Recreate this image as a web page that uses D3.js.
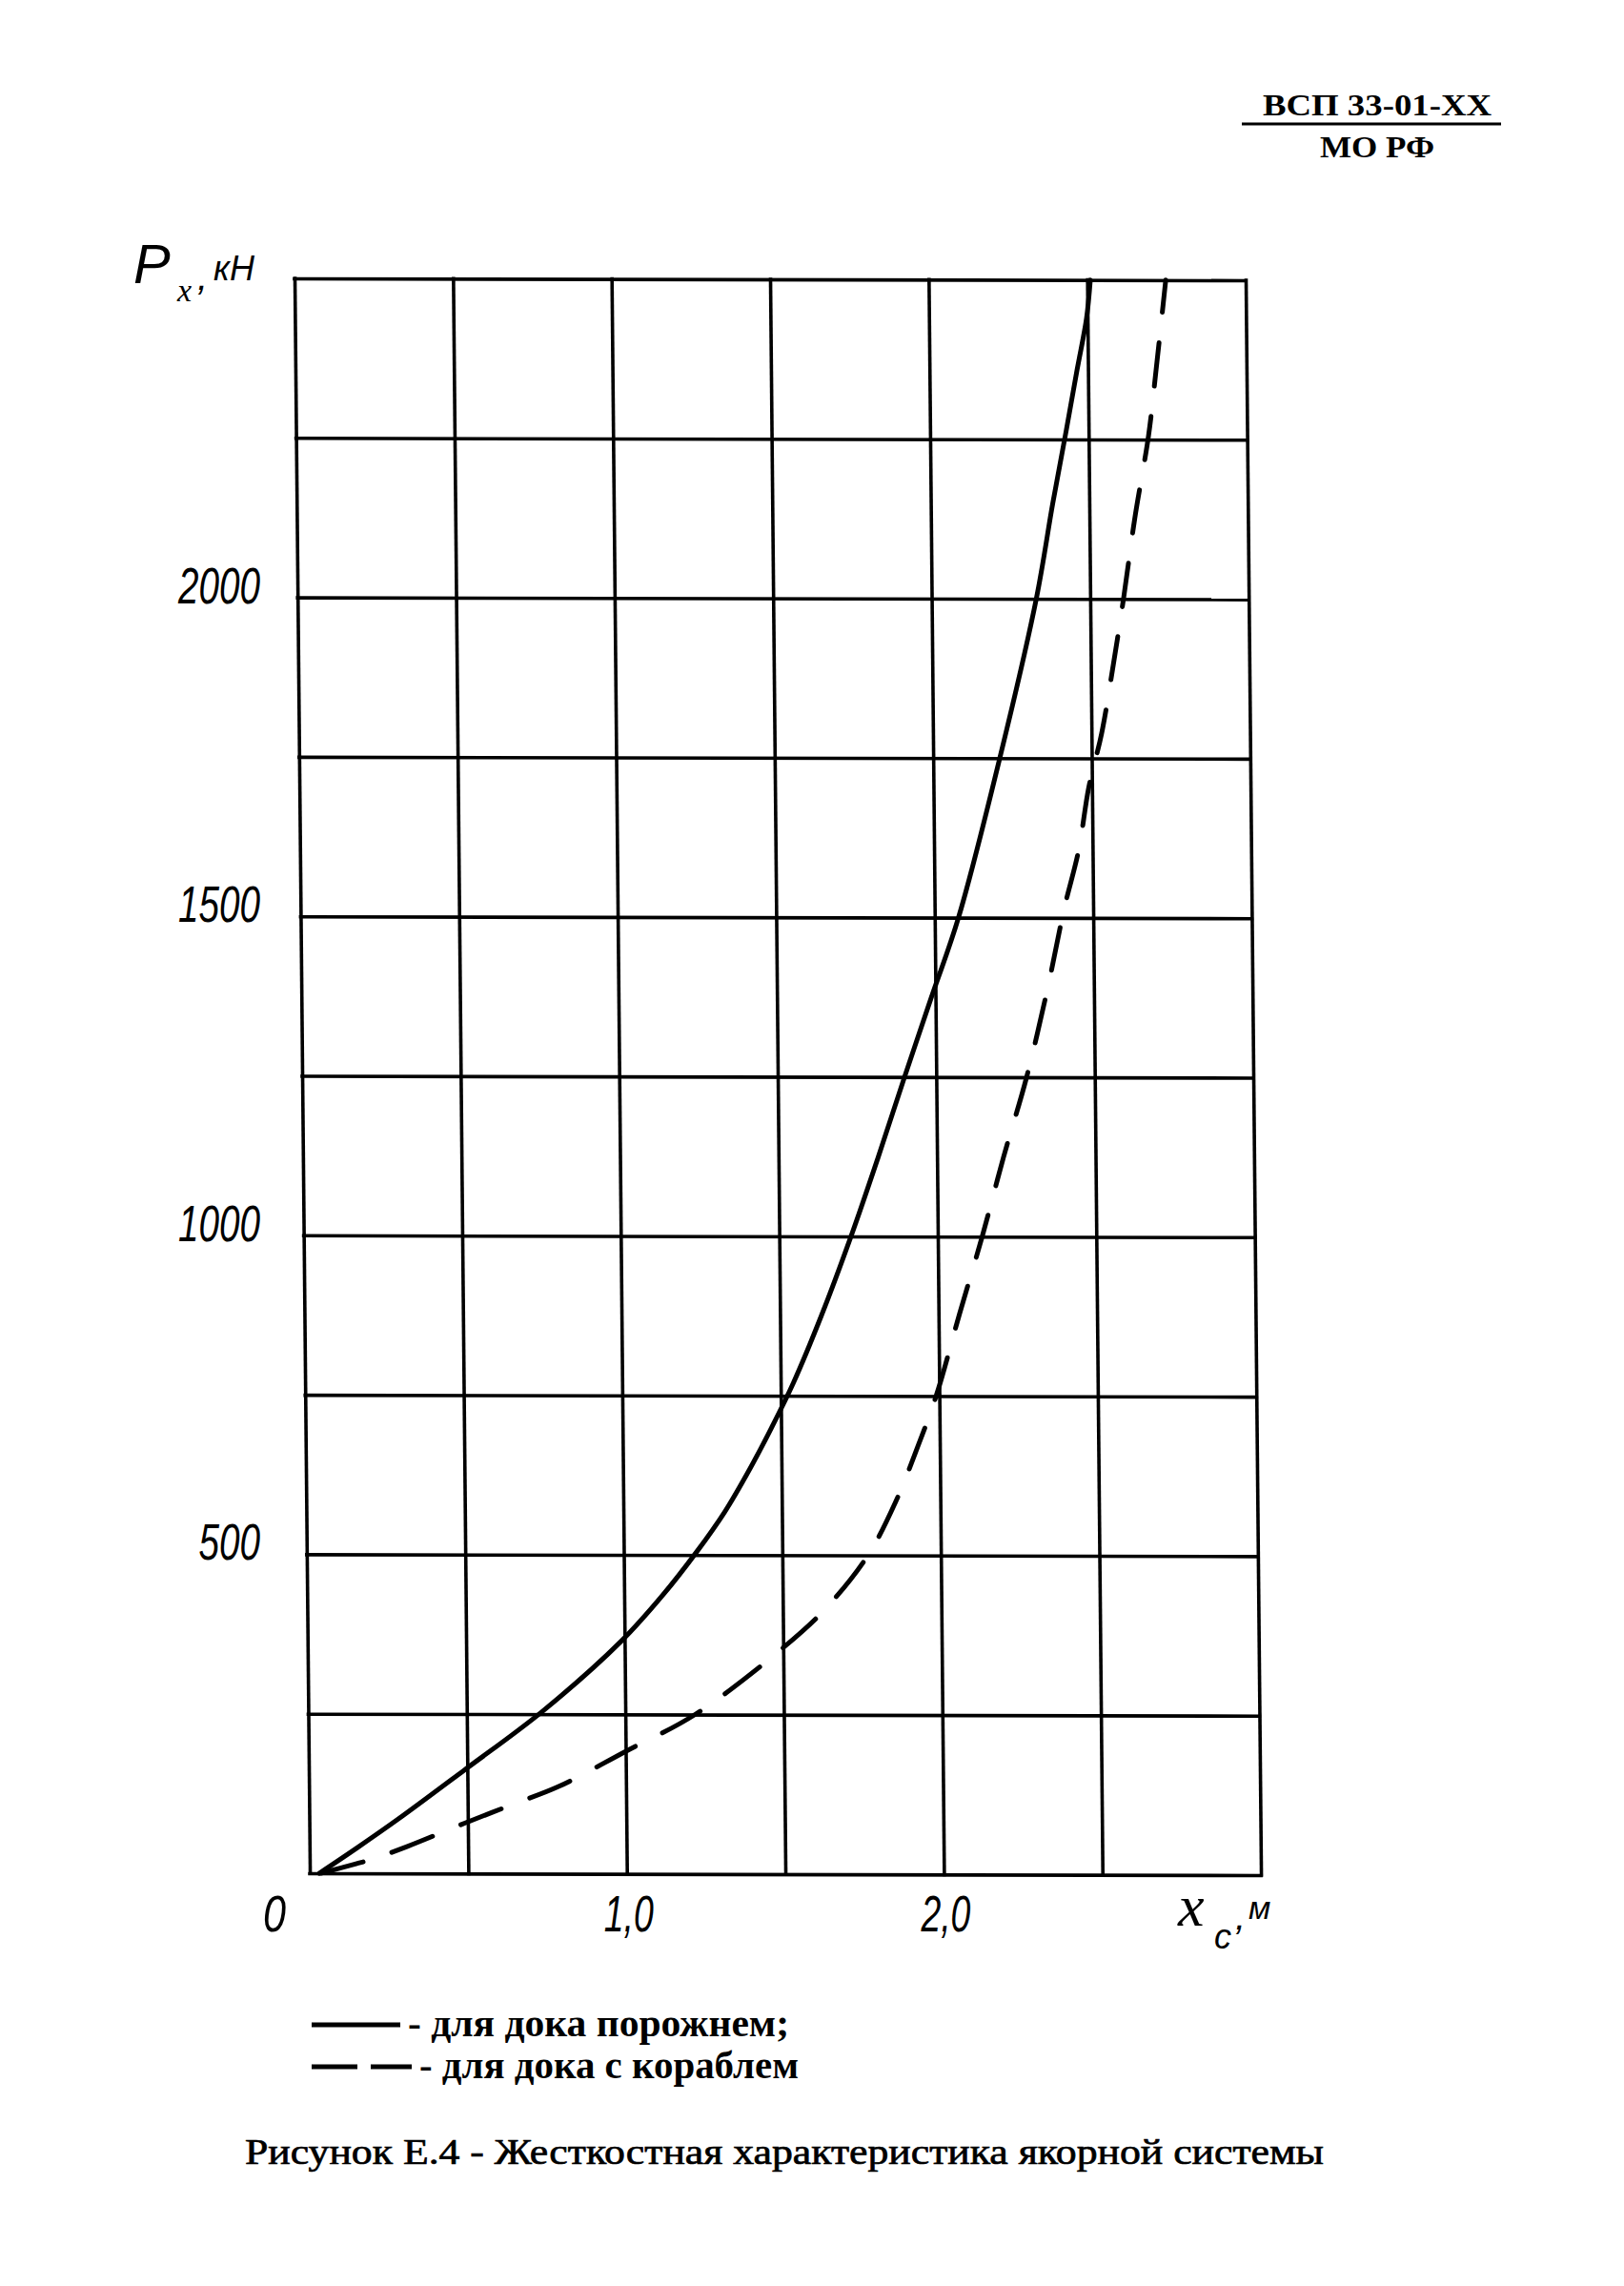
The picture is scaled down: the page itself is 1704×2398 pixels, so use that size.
<!DOCTYPE html>
<html><head><meta charset="utf-8">
<script src="https://cdn.jsdelivr.net/npm/d3@7"></script>
<style>body{margin:0;background:#fff}</style>
</head><body><svg id="c" width="1704" height="2398"></svg>
<script>
// ---- data ----
const xGridValues = [0, 0.5, 1, 1.5, 2, 2.5, 3];
const yGridValues = [0, 250, 500, 750, 1000, 1250, 1500, 1750, 2000, 2250, 2500];
const xTickValues = [0, 1, 2];
const xTickLabels = ["0", "1,0", "2,0"];
const yTickValues = [500, 1000, 1500, 2000];
const yTickLabels = ["500", "1000", "1500", "2000"];
// solid: для дока порожнем  (x, м ; P, кН)
const emptyDockX = [0.03, 0.15, 0.28, 0.49, 0.74, 0.99, 1.12, 1.23, 1.32, 1.40, 1.47, 1.54, 1.63, 1.73, 1.815, 1.90, 1.985, 2.075, 2.21, 2.33, 2.385, 2.43, 2.466, 2.497, 2.51];
const emptyDockP = [0, 40, 85, 162, 255, 365, 436, 505, 568, 635, 700, 770, 875, 1005, 1125, 1250, 1372, 1500, 1750, 2000, 2150, 2265, 2360, 2440, 2500];
// dashed: для дока с кораблем
const shipDockX = [0.035, 0.146, 0.196, 0.307, 0.49, 0.634, 0.789, 1.0, 1.22, 1.5, 1.636, 1.77, 1.86, 1.93, 1.99, 2.067, 2.14, 2.21, 2.285, 2.356, 2.409, 2.456, 2.49, 2.532, 2.571, 2.606, 2.643, 2.689, 2.715, 2.748];
const shipDockP = [0, 15, 22, 42, 79, 107, 137, 192, 250, 355, 417, 500, 585, 670, 750, 880, 1000, 1125, 1250, 1394, 1515, 1606, 1705, 1789, 1897, 2003, 2126, 2256, 2360, 2500];
const legendLabels = ["- для дока порожнем;", "- для дока с кораблем"];
const captionText = "Рисунок Е.4 - Жесткостная характеристика якорной системы";
const headerTop = "ВСП 33-01-XX";
const headerBottom = "МО РФ";

// ---- layout ----
const svg = d3.select("#c");
svg.append("rect").attr("width", 1704).attr("height", 2398).attr("fill", "#fff");
const X0 = 309, Y0 = 292, W = 998, H = 1673;
const skewX = 0.0096, skewY = 0.002;
const x = d3.scaleLinear().domain([0, 3]).range([0, W]);
const y = d3.scaleLinear().domain([0, 2500]).range([H, 0]);

const g = svg.append("g")
  .attr("transform", `translate(${X0},${Y0}) matrix(1,${skewY},${skewX},1,0,0)`);

// grid (vertical)
const gx = g.append("g").attr("transform", `translate(0,${H})`)
  .call(d3.axisBottom(x).tickValues(xGridValues).tickSize(-H).tickFormat(""));
// grid (horizontal)
const gy = g.append("g")
  .call(d3.axisLeft(y).tickValues(yGridValues).tickSize(-W).tickFormat(""));
[gx, gy].forEach(a => {
  a.select(".domain").remove();
  a.selectAll(".tick line").attr("stroke", "#000").attr("stroke-width", 3.6).attr("stroke-linecap", "square");
});

const line = d3.line().x(d => x(d[0])).y(d => y(d[1])).curve(d3.curveCatmullRom.alpha(0.5));
const solidPts = emptyDockX.map((v, i) => [v, emptyDockP[i]]);
const dashPts = shipDockX.map((v, i) => [v, shipDockP[i]]);
g.append("path").attr("d", line(solidPts)).attr("fill", "none")
  .attr("stroke", "#000").attr("stroke-width", 5).attr("stroke-linecap", "round");
g.append("path").attr("d", line(dashPts)).attr("fill", "none")
  .attr("stroke", "#000").attr("stroke-width", 5).attr("stroke-linecap", "round")
  .attr("stroke-dasharray", "46,32");

// tick labels
const tickFont = "'Liberation Sans', Arial, sans-serif";
yTickValues.forEach((v, i) => {
  const lab = yTickLabels[i];
  svg.append("text").attr("x", 273).attr("y", Y0 + y(v) + 6)
    .attr("text-anchor", "end").attr("font-family", tickFont).attr("font-style", "italic")
    .attr("font-size", 54).attr("textLength", lab.length * 21.5).attr("lengthAdjust", "spacingAndGlyphs")
    .text(lab);
});
xTickValues.forEach((v, i) => {
  const lab = xTickLabels[i];
  const cx = X0 + skewX * H + x(v) + (v === 0 ? -37 : 2);
  svg.append("text").attr("x", cx).attr("y", 2026)
    .attr("text-anchor", "middle").attr("font-family", tickFont).attr("font-style", "italic")
    .attr("font-size", 54).attr("textLength", lab.length === 1 ? 24 : 52).attr("lengthAdjust", "spacingAndGlyphs")
    .text(lab);
});

// axis titles
const yt = svg.append("g").attr("font-family", tickFont).attr("font-style", "italic");
yt.append("text").attr("x", 140).attr("y", 297).attr("font-size", 58).text("P");
yt.append("text").attr("x", 186).attr("y", 316).attr("font-size", 34).attr("font-family", "'Liberation Serif', serif").text("x");
yt.append("text").attr("x", 207).attr("y", 304).attr("font-size", 40).text(",");
yt.append("text").attr("x", 224).attr("y", 294).attr("font-size", 36).text("кН");

const xt = svg.append("g").attr("font-style", "italic");
xt.append("text").attr("x", 1236).attr("y", 2020).attr("font-size", 62).attr("font-family", "'Liberation Serif', serif").text("x");
xt.append("text").attr("x", 1274).attr("y", 2044).attr("font-size", 36).attr("font-family", tickFont).text("c");
xt.append("text").attr("x", 1296).attr("y", 2024).attr("font-size", 40).attr("font-family", tickFont).text(",");
xt.append("text").attr("x", 1310).attr("y", 2013).attr("font-size", 34).attr("font-family", tickFont).text("м");

// header
const serif = "'Liberation Serif', 'Times New Roman', serif";
svg.append("text").attr("x", 1325).attr("y", 121).attr("font-family", serif).attr("font-weight", "bold")
  .attr("font-size", 32).attr("textLength", 240).attr("lengthAdjust", "spacingAndGlyphs").text(headerTop);
svg.append("line").attr("x1", 1303).attr("x2", 1575).attr("y1", 130).attr("y2", 130)
  .attr("stroke", "#000").attr("stroke-width", 3);
svg.append("text").attr("x", 1385).attr("y", 165).attr("font-family", serif).attr("font-weight", "bold")
  .attr("font-size", 32).attr("textLength", 120).attr("lengthAdjust", "spacingAndGlyphs").text(headerBottom);

// legend
svg.append("line").attr("x1", 327).attr("x2", 420).attr("y1", 2124).attr("y2", 2124)
  .attr("stroke", "#000").attr("stroke-width", 5);
svg.append("line").attr("x1", 327).attr("x2", 432).attr("y1", 2168).attr("y2", 2168)
  .attr("stroke", "#000").attr("stroke-width", 5).attr("stroke-dasharray", "48,14");
svg.append("text").attr("x", 428).attr("y", 2136).attr("font-family", serif).attr("font-weight", "bold")
  .attr("font-size", 40).attr("textLength", 400).attr("lengthAdjust", "spacingAndGlyphs").text(legendLabels[0]);
svg.append("text").attr("x", 440).attr("y", 2180).attr("font-family", serif).attr("font-weight", "bold")
  .attr("font-size", 40).attr("textLength", 398).attr("lengthAdjust", "spacingAndGlyphs").text(legendLabels[1]);

// caption
svg.append("text").attr("x", 257).attr("y", 2270).attr("font-family", serif)
  .attr("font-size", 38).attr("stroke", "#000").attr("stroke-width", 0.7)
  .attr("textLength", 1132).attr("lengthAdjust", "spacingAndGlyphs").text(captionText);
</script>
</body></html>
